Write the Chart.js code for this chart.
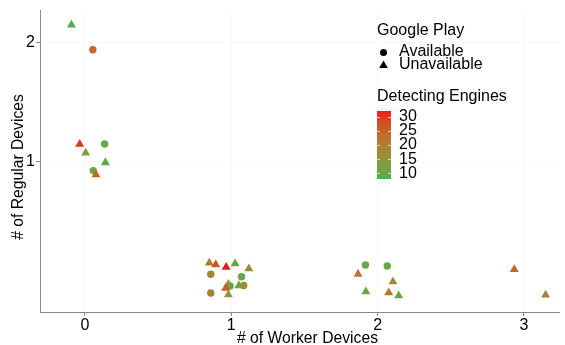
<!DOCTYPE html>
<html>
<head>
<meta charset="utf-8">
<script src="https://cdn.jsdelivr.net/npm/chart.js@4.4.1/dist/chart.umd.min.js"></script>
<style>
  html, body { margin: 0; background: #fff; }
  #wrap { width: 565px; height: 345px; }
</style>
</head>
<body>
<div id="wrap"><canvas id="devices"></canvas></div>
<script>
'use strict';

/*--- data (jittered positions, one entry per app) ---*/
const workerDevices = [-0.092, 0.054, -0.036, 0.135, 0.005, 0.14, 0.057, 0.075,
  0.85, 0.894, 0.965, 1.026, 1.12, 0.86, 1.07, 0.992, 0.98, 0.962, 1.052, 1.085, 0.86, 0.98,
  1.917, 2.066, 1.866, 2.105, 1.92, 2.076, 2.144,
  2.934, 3.148];
const regularDevices = [2.145, 1.937, 1.148, 1.15, 1.075, 0.995, 0.928, 0.895,
  0.156, 0.142, 0.122, 0.15, 0.108, 0.062, 0.042, -0.036, -0.02, -0.053, -0.032, -0.032, -0.094, -0.108,
  0.139, 0.131, 0.064, 0.0, -0.083, -0.092, -0.117,
  0.103, -0.111];
const detectingEngines = [8, 24, 30, 9, 14, 9, 10, 25,
  21, 27, 32, 11, 17, 19, 10, 10, 12, 26, 12, 18, 19, 15,
  10, 10, 22, 18, 11, 22, 10,
  24, 18];
const onGooglePlay = [0, 1, 0, 1, 0, 0, 1, 0,
  0, 0, 0, 0, 0, 1, 1, 1, 0, 0, 0, 1, 1, 0,
  1, 1, 0, 0, 0, 0, 0,
  0, 0];

const xTicks = [0, 1, 2, 3];
const yTicks = [1, 2];
const engineTicks = [10, 15, 20, 25, 30];
const engineLimits = [8, 32];
const lowColor = '#4DAF4A';
const highColor = '#E41A1C';

const FONT = '"Liberation Sans", Arial, sans-serif';

/*--- colour gradient, interpolated in Lab like ggplot ---*/
function hexToRgb(h) {
  return [1, 3, 5].map(i => parseInt(h.slice(i, i + 2), 16));
}
function rgbToLab(rgb) {
  const lin = c => { c /= 255; return c <= 0.04045 ? c / 12.92 : Math.pow((c + 0.055) / 1.055, 2.4); };
  const [R, G, B] = rgb.map(lin);
  const X = (0.4124 * R + 0.3576 * G + 0.1805 * B) / 0.95047;
  const Y = 0.2126 * R + 0.7152 * G + 0.0722 * B;
  const Z = (0.0193 * R + 0.1192 * G + 0.9505 * B) / 1.08883;
  const f = t => t > 0.008856 ? Math.cbrt(t) : 7.787 * t + 16 / 116;
  return [116 * f(Y) - 16, 500 * (f(X) - f(Y)), 200 * (f(Y) - f(Z))];
}
function labToRgb(lab) {
  const fy = (lab[0] + 16) / 116, fx = fy + lab[1] / 500, fz = fy - lab[2] / 200;
  const inv = t => t * t * t > 0.008856 ? t * t * t : (t - 16 / 116) / 7.787;
  const X = inv(fx) * 0.95047, Y = inv(fy), Z = inv(fz) * 1.08883;
  const R = 3.2406 * X - 1.5372 * Y - 0.4986 * Z;
  const G = -0.9689 * X + 1.8758 * Y + 0.0415 * Z;
  const B = 0.0557 * X - 0.2040 * Y + 1.0570 * Z;
  const gam = c => {
    c = c <= 0.0031308 ? 12.92 * c : 1.055 * Math.pow(c, 1 / 2.4) - 0.055;
    return Math.round(255 * Math.min(1, Math.max(0, c)));
  };
  return [gam(R), gam(G), gam(B)];
}
const lowLab = rgbToLab(hexToRgb(lowColor));
const highLab = rgbToLab(hexToRgb(highColor));
function engineColor(v) {
  const t = Math.min(1, Math.max(0, (v - engineLimits[0]) / (engineLimits[1] - engineLimits[0])));
  const rgb = labToRgb(lowLab.map((l, i) => l + (highLab[i] - l) * t));
  return 'rgb(' + rgb.join(',') + ')';
}

/*--- split by availability ---*/
function pick(flag) {
  const pts = [], cols = [];
  workerDevices.forEach((x, i) => {
    if (onGooglePlay[i] === flag) {
      pts.push({ x: x, y: regularDevices[i] });
      cols.push(engineColor(detectingEngines[i]));
    }
  });
  return { pts, cols };
}
const available = pick(1);
const unavailable = pick(0);

/*--- axis titles and legends drawn around the plot ---*/
const sideLegend = {
  id: 'sideLegend',
  afterDraw(chart) {
    const ctx = chart.ctx;
    ctx.save();
    ctx.fillStyle = '#000';
    ctx.textBaseline = 'middle';

    // axis titles
    ctx.font = '15.7px ' + FONT;
    ctx.textAlign = 'center';
    ctx.fillText('# of Worker Devices', 307.5, 338.5);
    ctx.save();
    ctx.translate(18.5, 167);
    ctx.rotate(-Math.PI / 2);
    ctx.fillText('# of Regular Devices', 0, 0);
    ctx.restore();

    ctx.textAlign = 'left';
    ctx.font = '16px ' + FONT;
    ctx.fillText('Google Play', 377, 31);
    ctx.fillText('Detecting Engines', 377, 97);

    Chart.helpers.drawPoint(ctx, { pointStyle: 'circle', radius: 3.5, rotation: 0, borderWidth: 0 }, 383.5, 52.5);
    Chart.helpers.drawPoint(ctx, { pointStyle: 'triangle', radius: 5, rotation: 0, borderWidth: 0 }, 383.5, 65.5);
    ctx.fillStyle = '#000';
    ctx.fillText('Available', 399, 52);
    ctx.fillText('Unavailable', 399, 65);

    // colour bar
    const barX = 377, barW = 14;
    const yOf = v => 116.7 + (30 - v) * 2.83;
    const top = yOf(engineLimits[1]), bottom = yOf(engineLimits[0]);
    for (let y = Math.floor(top); y < bottom; y++) {
      const v = engineLimits[1] - (y + 0.5 - top) / (bottom - top) * (engineLimits[1] - engineLimits[0]);
      ctx.fillStyle = engineColor(v);
      ctx.fillRect(barX, y, barW, 1);
    }
    ctx.strokeStyle = 'rgba(255,255,255,0.7)';
    ctx.lineWidth = 1;
    engineTicks.forEach(v => {
      const y = Math.round(yOf(v)) + 0.5;
      ctx.beginPath();
      ctx.moveTo(barX, y); ctx.lineTo(barX + 3, y);
      ctx.moveTo(barX + barW - 3, y); ctx.lineTo(barX + barW, y);
      ctx.stroke();
      ctx.fillStyle = '#000';
      ctx.fillText(String(v), 399, yOf(v));
    });
    ctx.restore();
  }
};

const axisColor = '#8a8a8a';
const gridColor = '#f8f8f8';

new Chart(document.getElementById('devices'), {
  type: 'scatter',
  data: {
    datasets: [
      {
        label: 'Unavailable',
        data: unavailable.pts,
        pointStyle: 'triangle',
        pointRadius: 5.2,
        pointBorderWidth: 0,
        backgroundColor: unavailable.cols
      },
      {
        label: 'Available',
        data: available.pts,
        pointStyle: 'circle',
        pointRadius: 3.7,
        pointBorderWidth: 0,
        backgroundColor: available.cols
      }
    ]
  },
  options: {
    responsive: true,
    maintainAspectRatio: false,
    animation: false,
    layout: { padding: { top: 10, right: 1, left: 0, bottom: 0 } },
    plugins: { legend: { display: false }, tooltip: { enabled: false } },
    scales: {
      x: {
        type: 'linear',
        min: -0.307,
        max: 3.245,
        afterBuildTicks: s => { s.ticks = xTicks.map(v => ({ value: v })); },
        afterFit: s => { s.height = 33; },
        border: { color: axisColor, width: 1 },
        grid: { color: gridColor, tickColor: axisColor, tickLength: 4 },
        ticks: { color: '#000', font: { family: FONT, size: 16 }, padding: 0, maxRotation: 0 }
      },
      y: {
        type: 'linear',
        min: -0.253,
        max: 2.264,
        afterBuildTicks: s => { s.ticks = yTicks.map(v => ({ value: v })); },
        afterFit: s => { s.width = 40; },
        border: { color: axisColor, width: 1 },
        grid: { color: gridColor, tickColor: axisColor, tickLength: 4 },
        ticks: { color: '#000', font: { family: FONT, size: 16 }, padding: 1 }
      }
    }
  },
  plugins: [sideLegend]
});
</script>
</body>
</html>
